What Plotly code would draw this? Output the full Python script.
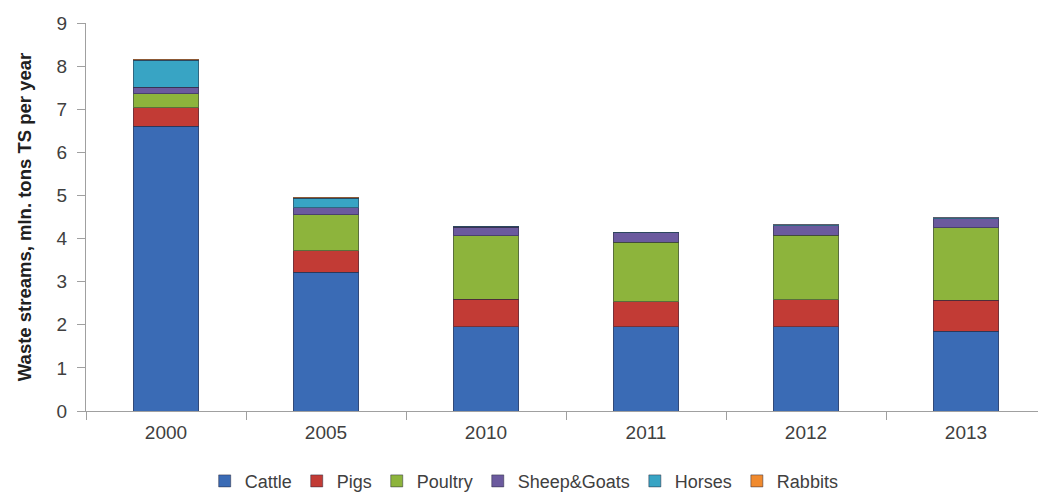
import plotly.graph_objects as go

years = ["2000", "2005", "2010", "2011", "2012", "2013"]
cattle = [6.60, 3.22, 1.95, 1.95, 1.95, 1.85]
pigs = [0.43, 0.50, 0.64, 0.58, 0.63, 0.72]
poultry = [0.33, 0.83, 1.47, 1.38, 1.50, 1.68]
sheep_goats = [0.15, 0.17, 0.20, 0.22, 0.22, 0.21]
horses = [0.63, 0.22, 0.02, 0.02, 0.02, 0.02]
rabbits = [0.02, 0.02, 0.0, 0.0, 0.0, 0.0]

series = [
    ("Cattle", cattle, "#3A6BB5"),
    ("Pigs", pigs, "#C23B35"),
    ("Poultry", poultry, "#8DB43C"),
    ("Sheep&Goats", sheep_goats, "#6B5A9E"),
    ("Horses", horses, "#38A4C4"),
    ("Rabbits", rabbits, "#F08A2E"),
]

fig = go.Figure()
for name, vals, color in series:
    fig.add_trace(go.Bar(
        x=years, y=vals, name=name,
        marker=dict(color=color, line=dict(color="rgba(40,40,60,0.5)", width=1)),
        width=0.41,
    ))

fig.update_layout(
    barmode="stack",
    width=1038, height=492,
    margin=dict(l=86, r=0, t=23, b=81, autoexpand=False),
    paper_bgcolor="white", plot_bgcolor="white",
    font=dict(family="Liberation Sans, Arial, sans-serif", size=18, color="#404040"),
    legend=dict(orientation="h", xref="container", x=0.505, xanchor="center",
                yref="container", y=0.022, yanchor="middle",
                font=dict(size=18, color="#404040"), traceorder="normal",
                itemwidth=30, tracegroupgap=0),
    showlegend=True,
)
fig.update_xaxes(
    type="category", range=[-0.5, 5.45],
    showline=True, linecolor="#A0A0A0", linewidth=1,
    ticks="outside", tickson="boundaries", ticklen=8, tickcolor="#A0A0A0",
    showgrid=False, tickfont=dict(size=19, color="#404040"),
    ticklabelstandoff=4,
)
fig.update_yaxes(
    range=[0, 9], dtick=1,
    showline=True, linecolor="#A0A0A0", linewidth=1,
    ticks="outside", ticklen=8, tickcolor="#A0A0A0",
    showgrid=False, zeroline=False, tickfont=dict(size=19, color="#404040"),
    ticklabelstandoff=6,
    title=dict(text="<b>Waste streams, mln. tons TS per year</b>",
               font=dict(size=18.5, color="#202020"), standoff=20),
)

fig.write_html("out.html")
